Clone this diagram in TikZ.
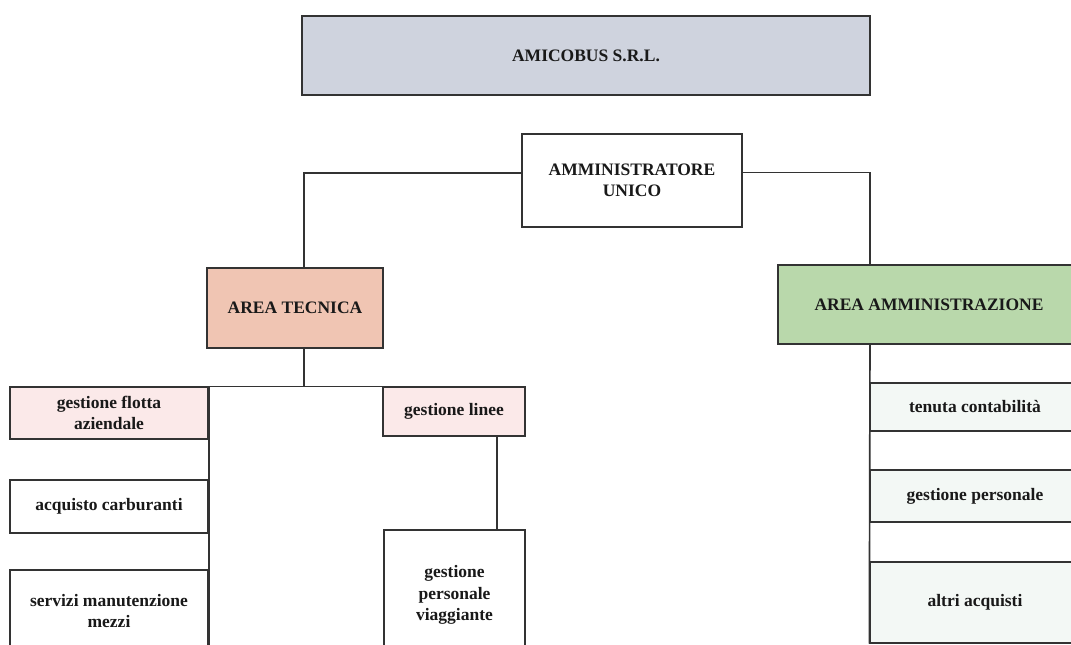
\documentclass[tikz,border=0pt]{standalone}
\usepackage{fontspec}
\setmainfont{Liberation Serif}
\usepackage{tikz}

\definecolor{boxline}{HTML}{333333}
\definecolor{headfill}{HTML}{CFD3DE}
\definecolor{tecfill}{HTML}{F0C5B3}
\definecolor{ammfill}{HTML}{B9D8AB}
\definecolor{tecsub}{HTML}{FBE9E9}
\definecolor{ammsub}{HTML}{F3F8F5}

\begin{document}
\begin{tikzpicture}[x=1pt,y=-1pt,
    unit/.style={rectangle, draw=boxline, line width=1.4pt, inner sep=0pt,
                 align=center, text=black!90,
                 font=\fontsize{17.5}{21.5}\selectfont\bfseries},
    head/.style={unit, fill=headfill, line width=2.4pt},
    line/.style={draw=boxline, line width=1.6pt},
    elbow/.style={to path={-| (\tikztotarget)}}]

  \path[use as bounding box, clip] (0,0) rectangle (1071,645);

  %Top%
  \node[head, minimum width=568, minimum height=79] (amicobus) at (586,55.5) {AMICOBUS S.R.L.};
  \node[unit, fill=white, minimum width=220, minimum height=93] (admin) at (632,180.5) {AMMINISTRATORE\\UNICO};

  %Areas%
  \node[unit, fill=tecfill, minimum width=176, minimum height=80] (tec) at (295,308) {AREA TECNICA};
  \node[unit, fill=ammfill, minimum width=302, minimum height=79] (amm) at (929,304.5) {AREA AMMINISTRAZIONE};

  %Area tecnica%
  \node[unit, fill=tecsub, minimum width=198, minimum height=52] (flotta) at (109,413) {gestione flotta\\aziendale};
  \node[unit, fill=white, minimum width=198, minimum height=53] (carbur) at (109,506.5) {acquisto carburanti};
  \node[unit, fill=white, minimum width=198, minimum height=82] (servizi) at (109,611) {servizi manutenzione\\mezzi};
  \node[unit, fill=tecsub, minimum width=142, minimum height=49] (linee) at (454,411.5) {gestione linee};
  \node[unit, fill=white, minimum width=141, minimum height=130] (viagg) at (454.5,595) {gestione\\personale\\viaggiante};

  %Area amministrazione%
  \node[unit, fill=ammsub, minimum width=210, minimum height=48] (tenuta) at (975,407) {tenuta contabilità};
  \node[unit, fill=ammsub, minimum width=210, minimum height=52] (gpers) at (975,496) {gestione personale};
  \node[unit, fill=ammsub, minimum width=210, minimum height=81] (altri) at (975,602.5) {altri acquisti};

  %Axes%
  \coordinate (tax) at (304,0);
  \coordinate (lax) at (497,0);
  \coordinate (aax) at (870,0);

  \path[line]
    ([yshift=7.5pt]admin.west) edge[elbow] (tec.north -| tax)
    ([yshift=8pt]admin.east)   edge[elbow] (amm.north -| aax)
    (tec.south -| tax)         edge (flotta.north -| tax)
    (flotta.north east)        edge (linee.north west)
                               edge (servizi.south east)
    (linee.south -| lax)       edge (viagg.north -| lax)
    (amm.south -| aax)         edge (altri.south west);
\end{tikzpicture}
\end{document}
